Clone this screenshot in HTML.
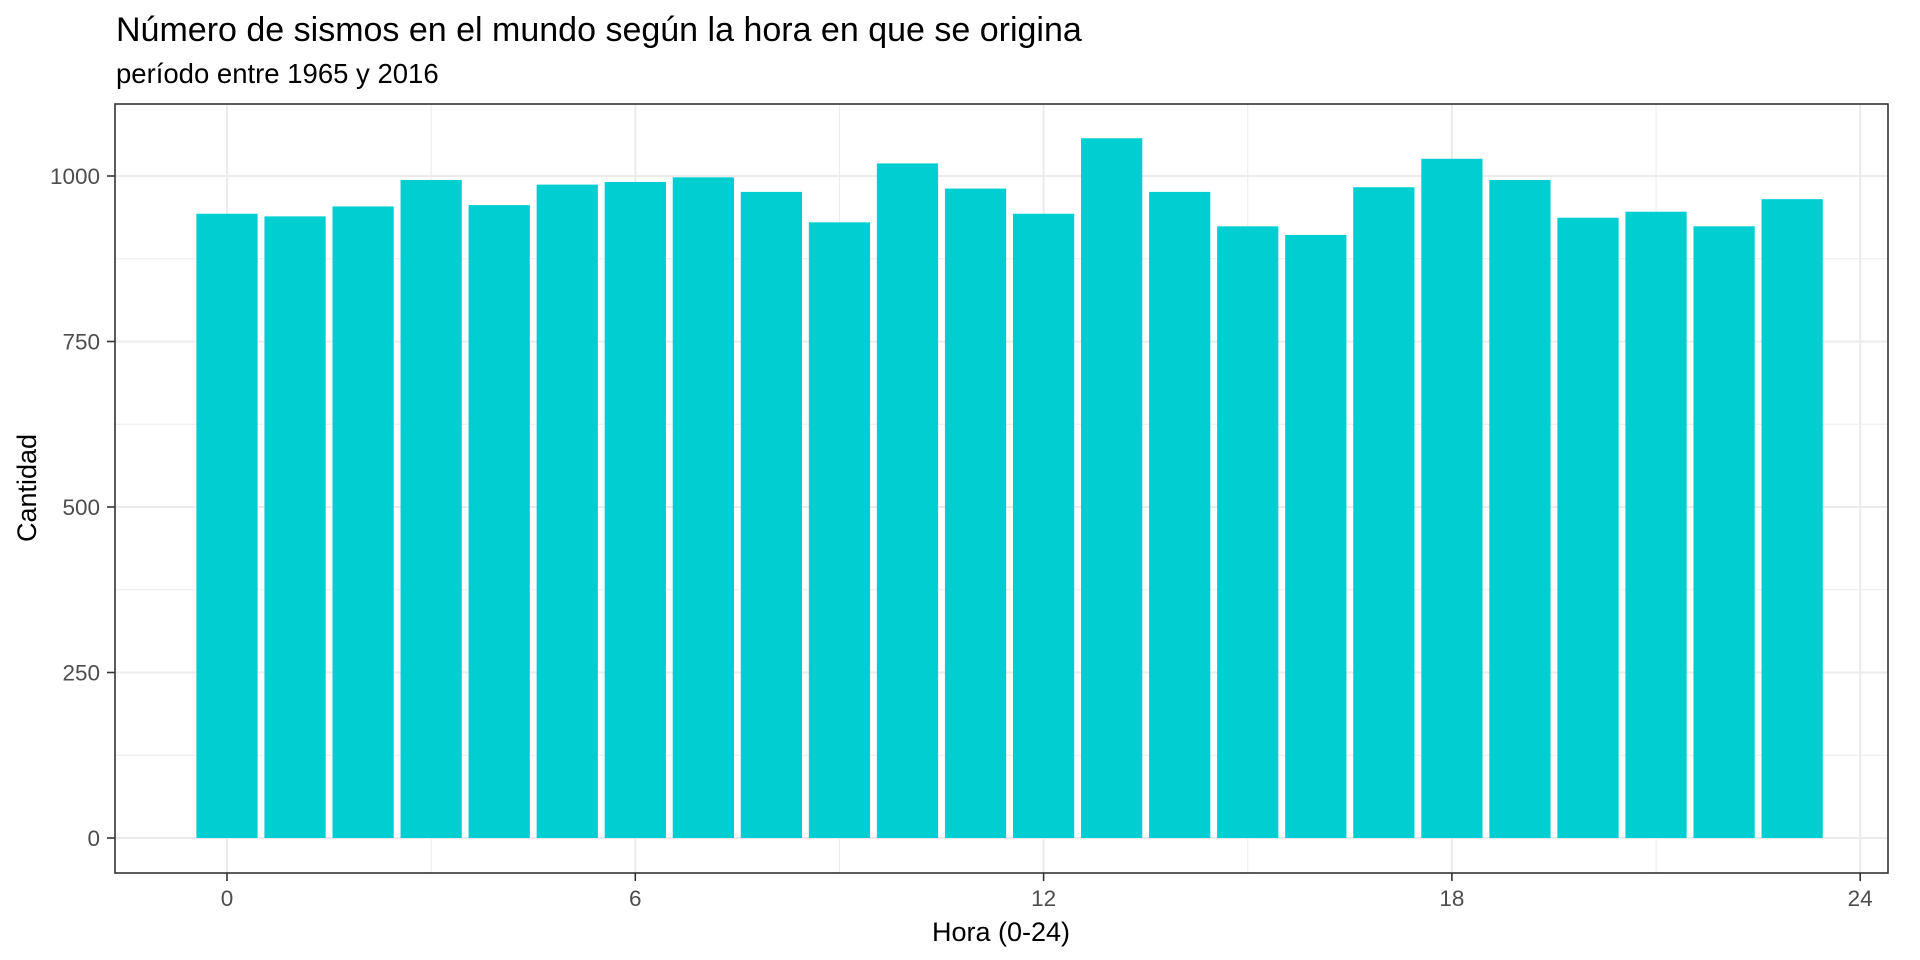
<!DOCTYPE html>
<html><head><meta charset="utf-8">
<style>
html,body{margin:0;padding:0;background:#fff;}
svg{display:block;font-family:"Liberation Sans",Arial,sans-serif;}
</style></head>
<body>
<svg id="chart" width="1920" height="960" viewBox="0 0 1920 960">
<text x="116" y="41" font-size="34" fill="#000">Número de sismos en el mundo según la hora en que se origina</text>
<text x="116" y="83" font-size="27.5" fill="#000">período entre 1965 y 2016</text>
<g id="grid"></g>
<g id="bars"></g>
<rect x="115" y="104" width="1773" height="769" fill="none" stroke="#333" stroke-width="1.6"/>
<g id="axes"></g>
<text x="1001" y="941" font-size="27" text-anchor="middle" fill="#000">Hora (0-24)</text>
<text transform="translate(36,488) rotate(-90)" font-size="27" text-anchor="middle" fill="#000">Cantidad</text>
</svg>
<script>
const hours = [0,1,2,3,4,5,6,7,8,9,10,11,12,13,14,15,16,17,18,19,20,21,22,23];
const counts = [943,939,954,994,956,987,991,998,976,930,1019,981,943,1057,976,924,911,983,1026,994,937,946,924,965];
const xTicks = [0,6,12,18,24];
const xMinor = [3,9,15,21];
const yTicks = [0,250,500,750,1000];
const yMinor = [125,375,625,875];

const L=115,R=1888,T=104,B=873;
const x = v => 227 + v*68.05;
const y = v => 838 - v*0.662;
const NS="http://www.w3.org/2000/svg";
function mk(tag, attrs, parent){const e=document.createElementNS(NS,tag);for(const k in attrs)e.setAttribute(k,attrs[k]);parent.appendChild(e);return e;}
const grid=document.getElementById('grid'), bars=document.getElementById('bars'), axes=document.getElementById('axes');

yMinor.forEach(v=>{const l=mk('line',{x1:L,x2:R,y1:y(v),y2:y(v),stroke:'#ebebeb','stroke-width':1},grid);

});
xMinor.forEach(v=>{const l=mk('line',{x1:x(v),x2:x(v),y1:T,y2:B,stroke:'#ebebeb','stroke-width':1},grid);

});
yTicks.forEach(v=>{const l=mk('line',{x1:L,x2:R,y1:y(v),y2:y(v),stroke:'#ebebeb','stroke-width':2},grid);


const t=mk('line',{x1:L-8,x2:L,y1:y(v),y2:y(v),stroke:'#333','stroke-width':1.6},axes);


const tx=mk('text',{x:L-15,y:y(v)+8,'font-size':22.5,'text-anchor':'end',fill:'#4d4d4d'},axes);
tx.textContent=v;

});
xTicks.forEach(v=>{const l=mk('line',{x1:x(v),x2:x(v),y1:T,y2:B,stroke:'#ebebeb','stroke-width':2},grid);


const t=mk('line',{x1:x(v),x2:x(v),y1:B,y2:B+8,stroke:'#333','stroke-width':1.6},axes);


const tx=mk('text',{x:x(v),y:906,'font-size':22.5,'text-anchor':'middle',fill:'#4d4d4d'},axes);
tx.textContent=v;

});
hours.forEach((h,i)=>{const w=0.9*68.05;
const r=mk('rect',{x:x(h)-w/2,y:y(counts[i]),width:w,height:y(0)-y(counts[i]),fill:'#00CED1'},bars);

});
</script>
</body></html>
